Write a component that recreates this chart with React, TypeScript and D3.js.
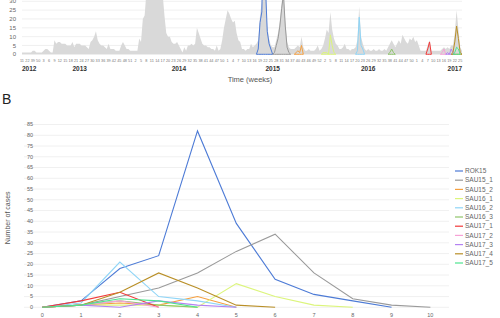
import React, { useEffect, useRef } from 'react'
import * as d3 from 'd3'

// week axis of panel A
const weeks2012 = [11, 16, 19, 22, 26, 33, 39, 44, 48, 50]
const fullYears = [2013, 2014, 2015, 2016]
const weeksPerYear = [52, 52, 53, 52]
const lastWeek2017 = 26
const yearLabels: [number, number][] = [
  [2012, 26], [2013, 23], [2014, 26], [2015, 26], [2016, 26], [2017, 22]
]

// all reported cases per week (grey area)
const totalCases = [
  1, 1, 1, 1, 1, 1, 2, 2, 1, 1,
  1, 1, 2, 3, 3, 2, 1, 1, 8, 6,
  7, 7, 6, 6, 6, 5, 5, 5, 7, 4,
  6, 6, 6, 5, 5, 5, 4, 3, 7, 8,
  10, 13, 8, 6, 5, 5, 4, 3, 6, 3,
  3, 3, 2, 2, 2, 5, 7, 5, 3, 3,
  2, 2, 2, 2, 2, 9, 7, 20, 22, 35,
  42, 50, 55, 60, 58, 50, 45, 38, 34, 22,
  12, 10, 10, 7, 6, 6, 7, 5, 3, 1,
  4, 2, 5, 5, 6, 5, 6, 15, 12, 9,
  6, 5, 5, 4, 4, 3, 3, 2, 5, 2,
  3, 8, 15, 20, 25, 23, 20, 18, 19, 12,
  8, 7, 3, 3, 2, 3, 3, 6, 4, 5,
  6, 8, 22, 30, 85, 42, 16, 9, 5, 4,
  4, 8, 12, 19, 29, 37, 19, 7, 4, 3,
  3, 3, 4, 5, 4, 10, 4, 2, 2, 3,
  2, 2, 2, 3, 5, 2, 3, 5, 9, 14,
  12, 24, 14, 9, 6, 5, 3, 3, 4, 6,
  3, 3, 2, 3, 3, 4, 8, 27, 10, 6,
  3, 2, 3, 2, 2, 3, 2, 2, 3, 2,
  2, 3, 2, 4, 6, 8, 6, 4, 6, 8,
  6, 11, 9, 7, 6, 9, 8, 10, 7, 8,
  5, 2, 2, 2, 2, 5, 8, 2, 2, 2,
  2, 2, 2, 3, 4, 3, 4, 3, 5, 5,
  12, 25, 14, 4, 2
]

// clusters: cases per week since cluster start
const clusterNames = [
  'ROK15', 'SAU15_1', 'SAU15_2', 'SAU16_1', 'SAU16_2', 'SAU16_3',
  'SAU17_1', 'SAU17_2', 'SAU17_3', 'SAU17_4', 'SAU17_5'
]
const rok15 = [0, 3, 18, 24, 82, 39, 13, 6, 3, 0]
const sau15_1 = [0, 1, 5, 9, 16, 26, 34, 16, 4, 1, 0]
const sau15_2 = [0, 1, 2, 1, 5, 0]
const sau16_1 = [0, 1, 1, 1, 0, 11, 5, 1, 0]
const sau16_2 = [0, 2, 21, 5, 3, 0]
const sau16_3 = [0, 1, 3, 1, 0]
const sau17_1 = [0, 3, 7, 0]
const sau17_2 = [0, 1, 3, 0]
const sau17_3 = [0, 1, 0, 3, 1, 0]
const sau17_4 = [0, 1, 7, 16, 9, 1, 0]
const sau17_5 = [0, 1, 4, 3, 0]
const clusterCases = [
  rok15, sau15_1, sau15_2, sau16_1, sau16_2, sau16_3,
  sau17_1, sau17_2, sau17_3, sau17_4, sau17_5
]
// index of the first week of each cluster on the panel A axis
const clusterStart = [130, 139, 151, 166, 185, 203, 224, 232, 235, 238, 239]
const clusterColors = [
  '#4d7bd6', '#9a9a9a', '#f5a040', '#dcf57c', '#8fd5f7', '#8fc56c',
  '#f23a3a', '#f7a2d6', '#b482f2', '#b98f27', '#4fe58f'
]

const yTicksA = d3.range(0, 31, 5)
const yTicksB = d3.range(0, 86, 5)
const xTicksB = d3.range(0, 11)

const FONT = '"Liberation Sans", Arial, sans-serif'

export default function App(): JSX.Element {
  const svgRef = useRef(null)

  useEffect(() => {
    const svg = d3.select(svgRef.current)
    svg.selectAll('*').remove()

    // ---------- panel A ----------
    const weeks: { year: number; week: number }[] = []
    weeks2012.forEach(w => weeks.push({ year: 2012, week: w }))
    fullYears.forEach((yr, i) => {
      for (let w = 1; w <= weeksPerYear[i]; w++) weeks.push({ year: yr, week: w })
    })
    for (let w = 1; w <= lastWeek2017; w++) weeks.push({ year: 2017, week: w })

    const n = totalCases.length
    const xA = d3.scaleLinear().domain([0, n - 1]).range([22, 462])
    const yA = d3.scaleLinear().domain([0, 30]).range([54.3, 1.3])

    const gA = svg.append('g')
    gA.selectAll('line.grid')
      .data(yTicksA)
      .join('line')
      .attr('x1', 22)
      .attr('x2', 462)
      .attr('y1', d => yA(d))
      .attr('y2', d => yA(d))
      .attr('stroke', '#ececec')
      .attr('stroke-width', 0.8)

    gA.selectAll('text.ytick')
      .data(yTicksA)
      .join('text')
      .attr('x', 16)
      .attr('y', d => yA(d))
      .attr('dy', '0.35em')
      .attr('text-anchor', 'end')
      .attr('font-size', 6)
      .attr('fill', '#666')
      .text(d => d)

    const area = d3.area<number>()
      .x((d, i) => xA(i))
      .y0(yA(0))
      .y1(d => yA(d))
    gA.append('path')
      .datum(totalCases)
      .attr('d', area)
      .attr('fill', '#d9d9d9')

    clusterCases.forEach((vals, k) => {
      const a = d3.area<number>()
        .x((d, i) => xA(clusterStart[k] + i))
        .y0(yA(0))
        .y1(d => yA(d))
      gA.append('path')
        .datum(vals)
        .attr('d', a)
        .attr('fill', 'none')
        .attr('stroke', clusterColors[k])
        .attr('stroke-width', 1)
    })

    gA.selectAll('text.week')
      .data(weeks.filter((d, i) => i % 3 === 0).map((d, j) => ({ ...d, i: j * 3 })))
      .join('text')
      .attr('x', d => xA(d.i))
      .attr('y', 61.5)
      .attr('text-anchor', 'middle')
      .attr('font-size', 3.8)
      .attr('fill', '#777')
      .text(d => d.week)

    gA.selectAll('text.year')
      .data(yearLabels)
      .join('text')
      .attr('x', d => xA(weeks.findIndex(w => w.year === d[0] && w.week >= d[1])))
      .attr('y', 70.5)
      .attr('text-anchor', 'middle')
      .attr('font-size', 6.5)
      .attr('font-weight', 'bold')
      .attr('fill', '#333')
      .text(d => d[0])

    gA.append('text')
      .attr('x', 250)
      .attr('y', 82)
      .attr('text-anchor', 'middle')
      .attr('font-size', 7.5)
      .attr('fill', '#555')
      .text('Time (weeks)')

    // ---------- panel B ----------
    svg.append('text')
      .attr('x', 2)
      .attr('y', 104)
      .attr('font-size', 14)
      .attr('fill', '#222')
      .text('B')

    const xB = d3.scaleLinear().domain([-0.47, 10.48]).range([24, 449])
    const yB = d3.scaleLinear().domain([0, 85]).range([307.3, 124.5])
    const gB = svg.append('g')

    gB.selectAll('line.grid')
      .data(yTicksB)
      .join('line')
      .attr('x1', 24)
      .attr('x2', 449)
      .attr('y1', d => yB(d))
      .attr('y2', d => yB(d))
      .attr('stroke', '#ececec')
      .attr('stroke-width', 0.8)

    gB.selectAll('text.ytick')
      .data(yTicksB)
      .join('text')
      .attr('x', 33)
      .attr('y', d => yB(d))
      .attr('dy', '0.35em')
      .attr('text-anchor', 'end')
      .attr('font-size', 5.5)
      .attr('fill', '#666')
      .text(d => d)

    gB.selectAll('text.xtick')
      .data(xTicksB)
      .join('text')
      .attr('x', d => xB(d))
      .attr('y', 317)
      .attr('text-anchor', 'middle')
      .attr('font-size', 5.5)
      .attr('fill', '#666')
      .text(d => d)

    gB.append('text')
      .attr('transform', `translate(10,${(yB(0) + yB(85)) / 2 + 2}) rotate(-90)`)
      .attr('text-anchor', 'middle')
      .attr('font-size', 7)
      .attr('fill', '#555')
      .text('Number of cases')

    const line = d3.line<number>()
      .x((d, i) => xB(i))
      .y(d => yB(d))
    clusterCases.forEach((vals, k) => {
      gB.append('path')
        .datum(vals)
        .attr('d', line)
        .attr('fill', 'none')
        .attr('stroke', clusterColors[k])
        .attr('stroke-width', 1.1)
    })

    const legend = gB.selectAll('g.legend')
      .data(clusterNames)
      .join('g')
      .attr('transform', (d, i) => `translate(455,${171 + i * 9.2})`)
    legend.append('line')
      .attr('x1', 0)
      .attr('x2', 8)
      .attr('stroke', (d, i) => clusterColors[i])
      .attr('stroke-width', 1.2)
    legend.append('text')
      .attr('x', 10)
      .attr('dy', '0.35em')
      .attr('font-size', 6.5)
      .attr('fill', '#666')
      .text(d => d)
  }, [])

  return (
    <div style={{ position: 'absolute', left: 0, top: 0 }}>
      <svg ref={svgRef} width={500} height={318} style={{ fontFamily: FONT, display: 'block' }}></svg>
    </div>
  )
}
